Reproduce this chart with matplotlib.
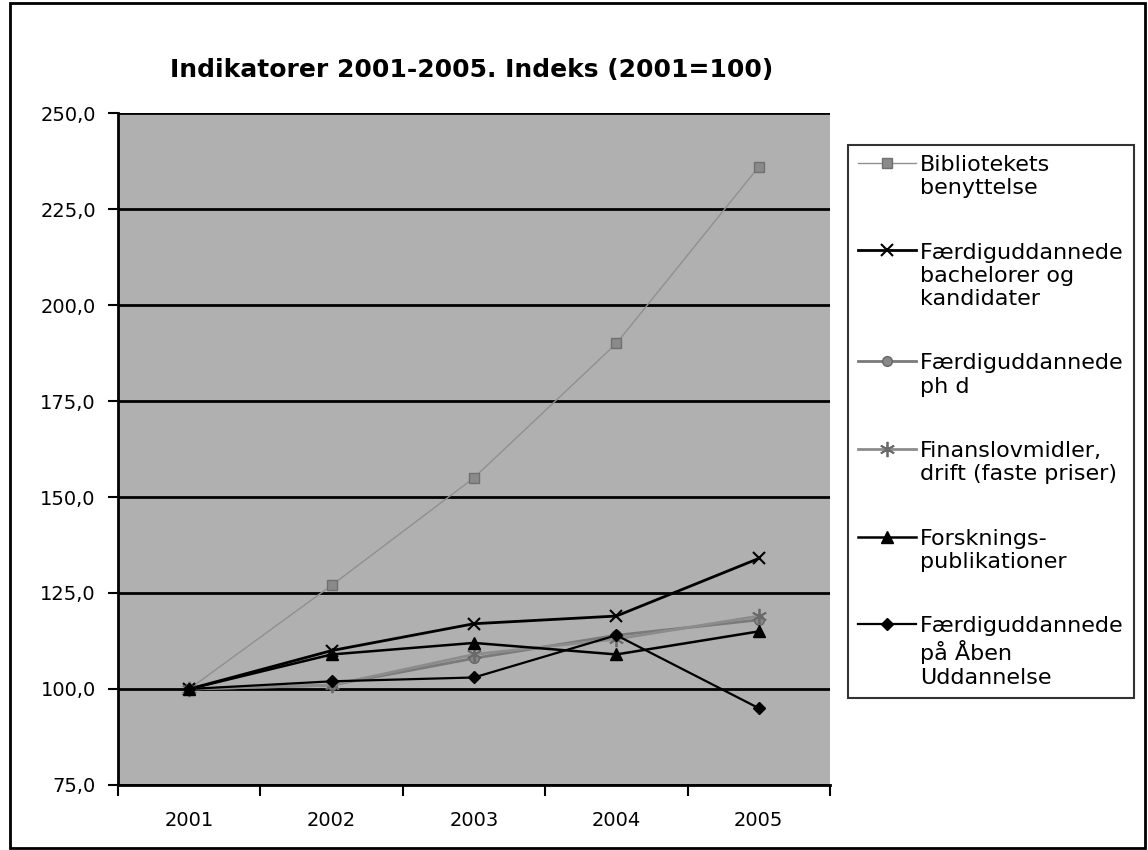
import matplotlib
matplotlib.use("Agg")
import matplotlib.pyplot as plt
from matplotlib.patches import Rectangle
from matplotlib.ticker import FixedLocator, FuncFormatter

years = ["2001", "2002", "2003", "2004", "2005"]
bibliotek = [100, 127, 155, 190, 236]
bachelor = [100, 110, 117, 119, 134]
phd = [100, 101, 108, 114, 118]
finanslov = [100, 101, 109, 113, 119]
forskning = [100, 109, 112, 109, 115]
aaben = [100, 102, 103, 114, 95]

labels = [
    "Bibliotekets\nbenyttelse",
    "Færdiguddannede\nbachelorer og\nkandidater",
    "Færdiguddannede\nph d",
    "Finanslovmidler,\ndrift (faste priser)",
    "Forsknings-\npublikationer",
    "Færdiguddannede\npå Åben\nUddannelse",
]
yticks = [75, 100, 125, 150, 175, 200, 225, 250]

plt.rcParams['font.family'] = ['DejaVu Sans']

fig = plt.figure(figsize=(11.48, 8.5), dpi=100)
ax = fig.add_axes([118/1148, 1-785/850, (830-118)/1148, (785-113)/850])
ax.set_facecolor('#b0b0b0')

x = list(range(len(years)))
series = [
    (bibliotek, dict(color='#909090', lw=1.0, marker='s', ms=7, mfc='#8a8a8a', mec='#707070')),
    (bachelor, dict(color='black', lw=2.0, marker='x', ms=9, mew=1.5)),
    (phd, dict(color='#7a7a7a', lw=2.0, marker='o', ms=7, mfc='#888888', mec='#666666')),
    (finanslov, dict(color='#8c8c8c', lw=2.0, marker=(6, 2, 0), ms=11, mew=1.3, mec='#6a6a6a')),
    (forskning, dict(color='black', lw=1.8, marker='^', ms=9)),
    (aaben, dict(color='black', lw=1.6, marker='D', ms=6)),
]
handles = []
for vals, st in series:
    h, = ax.plot(x, vals, **st)
    handles.append(h)

ax.set_xlim(-0.5, 4.5)
ax.set_ylim(75, 250)
ax.set_yticks(yticks)
ax.yaxis.set_major_formatter(FuncFormatter(lambda v, p: f"{v:.1f}".replace('.', ',')))
ax.grid(axis='y', color='black', lw=2)
ax.set_axisbelow(True)

ax.set_xticks(x)
ax.set_xticklabels(years)
ax.xaxis.set_minor_locator(FixedLocator([i - 0.5 for i in range(len(years) + 1)]))
ax.tick_params(axis='x', which='major', length=0, pad=19, labelsize=14)
ax.tick_params(axis='x', which='minor', length=8, width=1.5, direction='out')
ax.tick_params(axis='y', length=7, width=1.5, direction='out', labelsize=14, pad=9)

for s in ['top', 'right']:
    ax.spines[s].set_visible(False)
for s in ['left', 'bottom']:
    ax.spines[s].set_linewidth(2)

fig.suptitle("Indikatorer 2001-2005. Indeks (2001=100)", x=472/1148, y=1-70/850,
             va='center', ha='center', fontsize=18, fontweight='bold')

leg = fig.legend(handles, labels, loc='upper left',
                 bbox_to_anchor=(848/1148, 1-145/850),
                 frameon=True, fancybox=False, edgecolor='black',
                 fontsize=16, handlelength=2.6, handletextpad=0.2,
                 labelspacing=2.0, borderpad=0.45, borderaxespad=0)
leg.get_frame().set_linewidth(1.5)
for col in leg._legend_handle_box.get_children():
    for row in col.get_children():
        row.align = 'top'

fig.patches.append(Rectangle((10/1148, 2/850), 1135/1148, 845/850, transform=fig.transFigure,
                             fill=False, edgecolor='black', lw=2))

fig.savefig("out.png", dpi=100)
